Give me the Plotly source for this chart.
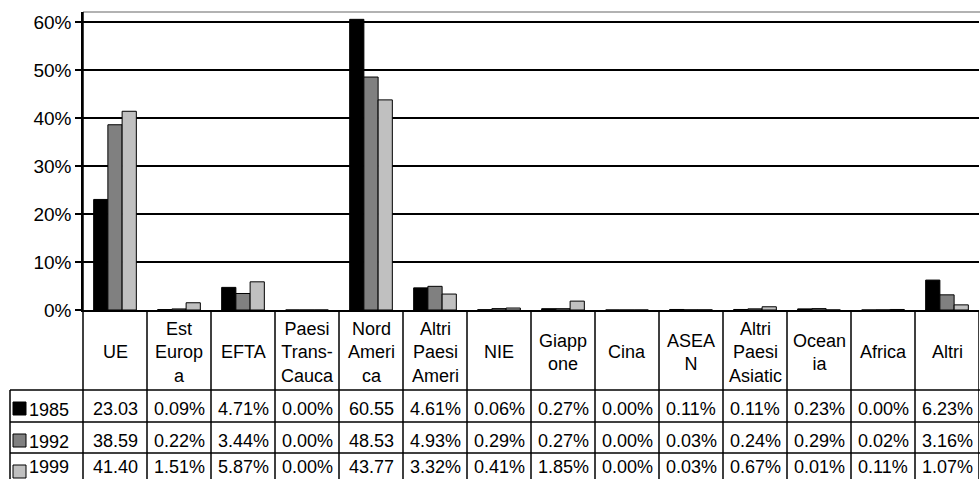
import plotly.graph_objects as go

categories = ["UE", "Est Europa", "EFTA", "Paesi Trans-Cauca", "Nord America",
              "Altri Paesi Ameri", "NIE", "Giappone", "Cina", "ASEAN",
              "Altri Paesi Asiatic", "Oceania", "Africa", "Altri"]
header_labels = ["UE", "Est<br>Europ<br>a", "EFTA", "Paesi<br>Trans-<br>Cauca",
                 "Nord<br>Ameri<br>ca", "Altri<br>Paesi<br>Ameri", "NIE", "Giapp<br>one",
                 "Cina", "ASEA<br>N", "Altri<br>Paesi<br>Asiatic", "Ocean<br>ia",
                 "Africa", "Altri"]
years = ["1985", "1992", "1999"]
v1985 = [23.03, 0.09, 4.71, 0.00, 60.55, 4.61, 0.06, 0.27, 0.00, 0.11, 0.11, 0.23, 0.00, 6.23]
v1992 = [38.59, 0.22, 3.44, 0.00, 48.53, 4.93, 0.29, 0.27, 0.00, 0.03, 0.24, 0.29, 0.02, 3.16]
v1999 = [41.40, 1.51, 5.87, 0.00, 43.77, 3.32, 0.41, 1.85, 0.00, 0.03, 0.67, 0.01, 0.11, 1.07]
series = [v1985, v1992, v1999]
colors = ["#000000", "#808080", "#C0C0C0"]
y_ticks = [0, 10, 20, 30, 40, 50, 60]
y_ticktext = [f"{t}%" for t in y_ticks]

W, H = 980, 479
ML, MR, MT, MB = 83, 1, 12, 169
PW, PH = W - ML - MR, H - MT - MB
FONT = "Liberation Sans, Arial, sans-serif"
FS = 18


def py(pix):
    return (H - MB - pix) / PH


def px(pix):
    return (pix - ML) / PW


fig = go.Figure()
for name, vals, col in zip(years, series, colors):
    fig.add_trace(go.Bar(x=categories, y=vals, name=name,
                         marker=dict(color=col, line=dict(color="black", width=1))))

shapes = []
annotations = []
LW = 1.5
# top border of plot area (gray)
shapes.append(dict(type="line", xref="paper", yref="paper", x0=0, x1=1.01, y0=1, y1=1,
                   line=dict(color="#999999", width=1.5)))
header_top, header_bot = 310, 390
row_tops = [390, 422, 453]
row_h = 32
tbl_left = 10
# vertical column lines
shapes.append(dict(type="line", xref="paper", yref="paper", x0=0, x1=0,
                   y0=1, y1=py(H + 5), line=dict(color="black", width=LW)))
for i in range(1, len(categories) + 1):
    shapes.append(dict(type="line", xref="x", yref="paper", x0=i - 0.5, x1=i - 0.5,
                       y0=0, y1=py(H + 5), line=dict(color="black", width=LW)))
# table left border
shapes.append(dict(type="line", xref="paper", yref="paper", x0=px(tbl_left), x1=px(tbl_left),
                   y0=py(header_bot), y1=py(H + 5), line=dict(color="black", width=LW)))
# horizontal lines
for t in row_tops:
    shapes.append(dict(type="line", xref="paper", yref="paper", x0=px(tbl_left), x1=1.01,
                       y0=py(t), y1=py(t), line=dict(color="black", width=LW)))

# header labels
for cat, lab in zip(categories, header_labels):
    annotations.append(dict(xref="x", yref="paper", x=cat, y=py((header_top + header_bot) / 2 + 2),
                            text=lab, showarrow=False, xanchor="center", yanchor="middle",
                            font=dict(family=FONT, size=FS, color="black")))

# data rows
for r, (yr, vals, col) in enumerate(zip(years, series, colors)):
    top = row_tops[r]
    cy = min(top + row_h / 2 + 3, H - 12.5)
    shapes.append(dict(type="rect", xref="paper", yref="paper",
                       x0=px(13), x1=px(26), y0=py(top + 12), y1=py(top + 25),
                       fillcolor=col, line=dict(color="black", width=1)))
    annotations.append(dict(xref="paper", yref="paper", x=px(27), y=py(min(cy + 1, H - 12.5)),
                            text=yr, showarrow=False, xanchor="left", yanchor="middle",
                            font=dict(family=FONT, size=FS, color="black")))
    for cat, v in zip(categories, vals):
        txt = f"{v:.2f}%" if v < 10 else f"{v:.2f}"
        annotations.append(dict(xref="x", yref="paper", x=cat, y=py(cy),
                                text=txt, showarrow=False, xanchor="center", yanchor="middle",
                                font=dict(family=FONT, size=FS, color="black")))

fig.update_layout(
    width=W, height=H,
    margin=dict(l=ML, r=MR, t=MT, b=MB, pad=0),
    paper_bgcolor="white", plot_bgcolor="white",
    barmode="group", bargap=0.333, bargroupgap=0,
    showlegend=False,
    font=dict(family=FONT, size=FS, color="black"),
    xaxis=dict(type="category", showticklabels=False, ticks="", showgrid=False,
               showline=True, linecolor="black", linewidth=LW, zeroline=False,
               range=[-0.5, len(categories) - 0.5]),
    yaxis=dict(range=[0, 62.08], tickmode="array", tickvals=y_ticks, ticktext=y_ticktext,
               ticks="outside", ticklen=6, tickcolor="black", tickwidth=LW,
               showgrid=True, gridcolor="black", gridwidth=LW,
               showline=True, linecolor="black", linewidth=LW, zeroline=False,
               automargin=False,
               tickfont=dict(family=FONT, size=19, color="black")),
    shapes=shapes, annotations=annotations,
)

fig.write_html("out.html", config={"displayModeBar": False},
               post_script="document.body.style.margin='0';document.body.style.overflow='hidden';")
